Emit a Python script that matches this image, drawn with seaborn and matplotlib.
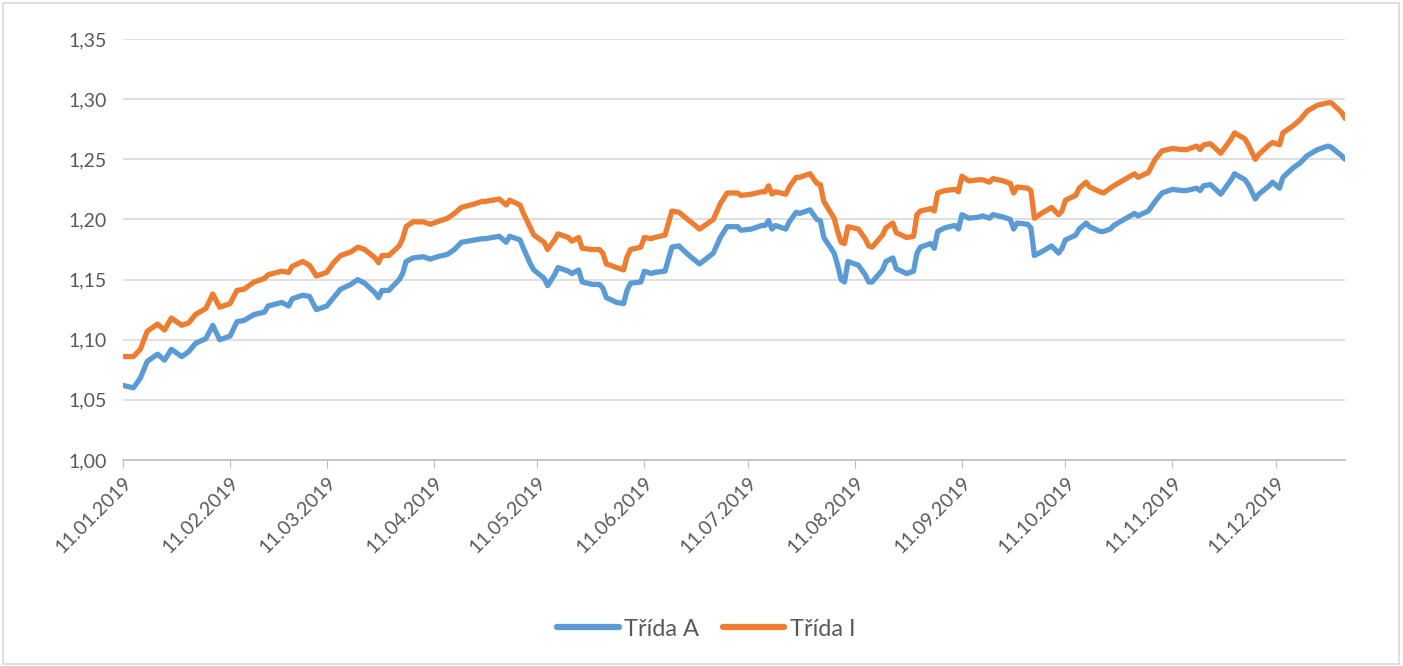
import pandas as pd
import matplotlib.pyplot as plt
import matplotlib.dates as mdates
from matplotlib.patches import Rectangle
from matplotlib.ticker import FuncFormatter
import seaborn as sns

# %% Data
dates = [
    "2019-01-11", "2019-01-14", "2019-01-16", "2019-01-18", "2019-01-21", "2019-01-23", "2019-01-25",
    "2019-01-28", "2019-01-30", "2019-02-01", "2019-02-04", "2019-02-06", "2019-02-08", "2019-02-11",
    "2019-02-13", "2019-02-15", "2019-02-18", "2019-02-21", "2019-02-22", "2019-02-26", "2019-02-28",
    "2019-03-01", "2019-03-04", "2019-03-06", "2019-03-08", "2019-03-11", "2019-03-13", "2019-03-15",
    "2019-03-18", "2019-03-20", "2019-03-22", "2019-03-25", "2019-03-26", "2019-03-27", "2019-03-29",
    "2019-04-01", "2019-04-02", "2019-04-03", "2019-04-05", "2019-04-08", "2019-04-10", "2019-04-12",
    "2019-04-15", "2019-04-17", "2019-04-19", "2019-04-23", "2019-04-25", "2019-04-26", "2019-04-30",
    "2019-05-02", "2019-05-03", "2019-05-06", "2019-05-07", "2019-05-09", "2019-05-10", "2019-05-13",
    "2019-05-14", "2019-05-16", "2019-05-17", "2019-05-20", "2019-05-21", "2019-05-23", "2019-05-24",
    "2019-05-27", "2019-05-29", "2019-05-30", "2019-05-31", "2019-06-03", "2019-06-05", "2019-06-06",
    "2019-06-07", "2019-06-10", "2019-06-11", "2019-06-13", "2019-06-14", "2019-06-17", "2019-06-19",
    "2019-06-21", "2019-06-24", "2019-06-27", "2019-07-01", "2019-07-03", "2019-07-05", "2019-07-08",
    "2019-07-09", "2019-07-12", "2019-07-15", "2019-07-16", "2019-07-17", "2019-07-18",
    "2019-07-19", "2019-07-22", "2019-07-23", "2019-07-25", "2019-07-26", "2019-07-29", "2019-07-31",
    "2019-08-01", "2019-08-02", "2019-08-05", "2019-08-06", "2019-08-07", "2019-08-08", "2019-08-09",
    "2019-08-12", "2019-08-13", "2019-08-14", "2019-08-15", "2019-08-16", "2019-08-19", "2019-08-20",
    "2019-08-22", "2019-08-23", "2019-08-26", "2019-08-28", "2019-08-29", "2019-08-30", "2019-09-02",
    "2019-09-03", "2019-09-04", "2019-09-06", "2019-09-09", "2019-09-10", "2019-09-11", "2019-09-13",
    "2019-09-16", "2019-09-17", "2019-09-19", "2019-09-20", "2019-09-23", "2019-09-25", "2019-09-26",
    "2019-09-27", "2019-09-30", "2019-10-01", "2019-10-02", "2019-10-04", "2019-10-07", "2019-10-09",
    "2019-10-10", "2019-10-11", "2019-10-14", "2019-10-15", "2019-10-17", "2019-10-18", "2019-10-21",
    "2019-10-22", "2019-10-24", "2019-10-25", "2019-10-28", "2019-10-31", "2019-11-01", "2019-11-04",
    "2019-11-06", "2019-11-08", "2019-11-11", "2019-11-14", "2019-11-15", "2019-11-18", "2019-11-19",
    "2019-11-20", "2019-11-22", "2019-11-25", "2019-11-26", "2019-11-28", "2019-11-29", "2019-12-02",
    "2019-12-03", "2019-12-05", "2019-12-06", "2019-12-09", "2019-12-10", "2019-12-12", "2019-12-13",
    "2019-12-16", "2019-12-18", "2019-12-20", "2019-12-23", "2019-12-26", "2019-12-27", "2019-12-30",
    "2019-12-31",
]

trida_a = [
    1.062, 1.060, 1.068, 1.082, 1.088, 1.083, 1.092, 1.086, 1.090, 1.097, 1.101, 1.112, 1.100, 1.103,
    1.115, 1.116, 1.121, 1.123, 1.128, 1.131, 1.128, 1.134, 1.137, 1.136, 1.125, 1.128, 1.135, 1.142,
    1.146, 1.150, 1.147, 1.139, 1.135, 1.141, 1.141, 1.150, 1.155, 1.165, 1.168, 1.169, 1.167, 1.169,
    1.171, 1.175, 1.181, 1.183, 1.184, 1.184, 1.186, 1.181, 1.186, 1.183, 1.176, 1.163, 1.158, 1.151,
    1.145, 1.154, 1.160, 1.157, 1.155, 1.158, 1.148, 1.146, 1.146, 1.143, 1.135, 1.131, 1.130, 1.141,
    1.147, 1.148, 1.157, 1.155, 1.156, 1.157, 1.177, 1.178, 1.170, 1.163, 1.172, 1.185, 1.194, 1.194,
    1.191, 1.192, 1.195, 1.195, 1.199, 1.192, 1.195, 1.192, 1.198, 1.206, 1.205, 1.208, 1.200, 1.199,
    1.185, 1.172, 1.162, 1.150, 1.148, 1.165, 1.162, 1.158, 1.154, 1.148, 1.148, 1.158, 1.165, 1.168,
    1.159, 1.155, 1.157, 1.172, 1.177, 1.180, 1.176, 1.190, 1.193, 1.195, 1.192, 1.204, 1.201, 1.202,
    1.203, 1.201, 1.204, 1.202, 1.200, 1.192, 1.197, 1.196, 1.193, 1.170, 1.173, 1.178, 1.172, 1.176,
    1.183, 1.187, 1.192, 1.197, 1.194, 1.190, 1.190, 1.192, 1.195, 1.200, 1.205, 1.203, 1.207, 1.215,
    1.222, 1.225, 1.224, 1.224, 1.226, 1.224, 1.228, 1.229, 1.221, 1.225, 1.233, 1.238, 1.233, 1.229,
    1.217, 1.221, 1.228, 1.231, 1.226, 1.235, 1.243, 1.247, 1.253, 1.258, 1.261, 1.260, 1.253, 1.250,
]

trida_i = [
    1.086, 1.086, 1.092, 1.107, 1.113, 1.108, 1.118, 1.112, 1.114, 1.121, 1.126, 1.138, 1.127, 1.130,
    1.141, 1.142, 1.148, 1.151, 1.154, 1.157, 1.156, 1.161, 1.165, 1.162, 1.153, 1.156, 1.164, 1.170,
    1.173, 1.177, 1.175, 1.168, 1.164, 1.170, 1.170, 1.178, 1.184, 1.194, 1.198, 1.198, 1.196, 1.198,
    1.201, 1.205, 1.210, 1.213, 1.215, 1.215, 1.217, 1.212, 1.216, 1.212, 1.205, 1.193, 1.187, 1.181,
    1.175, 1.183, 1.188, 1.185, 1.182, 1.185, 1.176, 1.175, 1.175, 1.172, 1.163, 1.160, 1.158, 1.169,
    1.175, 1.177, 1.185, 1.184, 1.185, 1.187, 1.207, 1.206, 1.199, 1.192, 1.200, 1.213, 1.222, 1.222,
    1.220, 1.221, 1.223, 1.223, 1.228, 1.221, 1.223, 1.221, 1.227, 1.235, 1.235, 1.238, 1.230, 1.229,
    1.215, 1.201, 1.190, 1.181, 1.180, 1.194, 1.192, 1.188, 1.184, 1.178, 1.177, 1.187, 1.193, 1.197,
    1.189, 1.185, 1.186, 1.204, 1.207, 1.209, 1.207, 1.222, 1.224, 1.225, 1.223, 1.236, 1.232, 1.233,
    1.233, 1.231, 1.234, 1.232, 1.230, 1.222, 1.227, 1.226, 1.224, 1.201, 1.205, 1.210, 1.204, 1.207,
    1.216, 1.220, 1.226, 1.231, 1.227, 1.223, 1.222, 1.226, 1.228, 1.233, 1.238, 1.235, 1.239, 1.250,
    1.257, 1.259, 1.258, 1.258, 1.261, 1.258, 1.262, 1.263, 1.255, 1.259, 1.267, 1.272, 1.267, 1.262,
    1.250, 1.254, 1.262, 1.264, 1.262, 1.272, 1.278, 1.283, 1.290, 1.295, 1.297, 1.297, 1.289, 1.284,
]

series_names = ["Třída A", "Třída I"]
y_ticks = [1.00, 1.05, 1.10, 1.15, 1.20, 1.25, 1.30, 1.35]

df = pd.DataFrame({"Datum": pd.to_datetime(dates), series_names[0]: trida_a, series_names[1]: trida_i})
df_long = df.melt(id_vars="Datum", var_name="Třída", value_name="Hodnota")

# %% Plot
sns.set_style("white")
plt.rcParams['font.family'] = ['Lato', 'DejaVu Sans']

fig = plt.figure(figsize=(14.03, 6.66), dpi=100)
ax = fig.add_axes([0.0877, 0.3093, 0.8710, 0.6321])

sns.lineplot(
    ax=ax,
    data=df_long, x="Datum", y="Hodnota", hue="Třída",
    palette=["#5B9BD5", "#ED7D31"], linewidth=3.8,
)

ax.set_ylim(1.00, 1.35)
ax.set_yticks(y_ticks)
ax.yaxis.set_major_formatter(FuncFormatter(lambda v, p: f"{v:.2f}".replace(".", ",")))
ax.set_xlim(pd.Timestamp("2019-01-11"), pd.Timestamp("2019-12-31"))
ax.xaxis.set_major_locator(mdates.MonthLocator(bymonthday=11))
ax.xaxis.set_major_formatter(mdates.DateFormatter("%d.%m.%Y"))
plt.setp(ax.get_xticklabels(), rotation=45, ha="right", rotation_mode="anchor")

ax.grid(axis="y", color="#D9D9D9", linewidth=1.2)
for s in ["top", "right", "left"]:
    ax.spines[s].set_visible(False)
ax.spines["bottom"].set_color("#BFBFBF")
ax.spines["bottom"].set_linewidth(1.2)
ax.tick_params(axis="x", which="major", direction="out", length=6, color="#BFBFBF",
               labelsize=14, labelcolor="#595959", pad=4, bottom=True)
ax.tick_params(axis="y", length=0, labelsize=14, labelcolor="#595959", pad=12)
ax.set_xlabel("")
ax.set_ylabel("")

leg = ax.legend(loc="center", bbox_to_anchor=(0.4775, -0.402), ncol=2, frameon=False,
                fontsize=17, handlelength=2.6, handletextpad=0.25, columnspacing=1.0,
                labelcolor="#595959")
for line in leg.get_lines():
    line.set_linewidth(4.5)
    line.set_solid_capstyle("round")

# Excel-like chart frame
fig.patches.append(Rectangle((0.002, 0.003), 0.995, 0.993, transform=fig.transFigure,
                             fill=False, edgecolor="#D9D9D9", linewidth=1.2))

fig.savefig("out.png", dpi=100)
